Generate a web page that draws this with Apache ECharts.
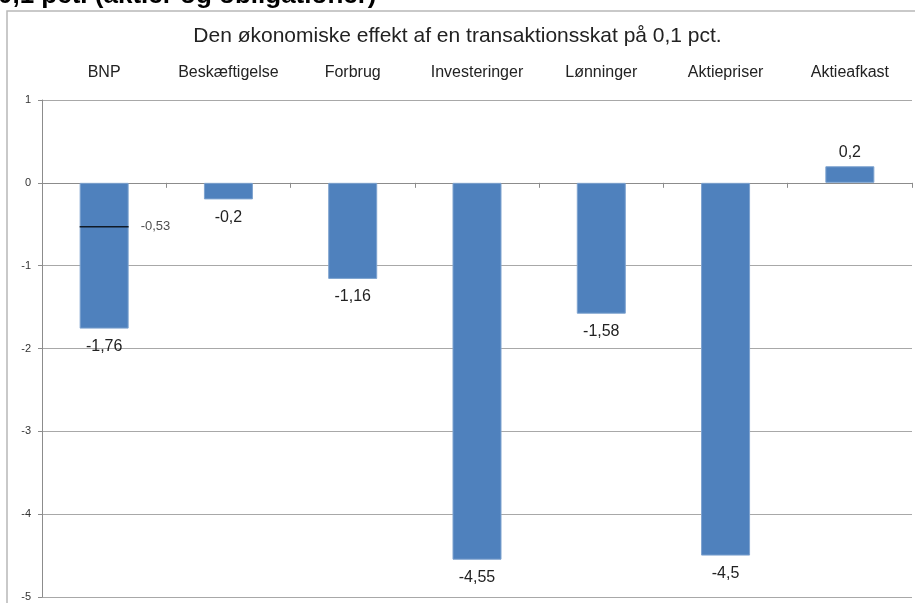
<!DOCTYPE html>
<html><head><meta charset="utf-8">
<script src="https://cdn.jsdelivr.net/npm/echarts@6/dist/echarts.min.js"></script>
<style>html,body{margin:0;padding:0;background:#fff}#c{width:915px;height:603px}</style>
</head><body><div id="c"></div>
<script>
const categories = ['BNP','Beskæftigelse','Forbrug','Investeringer','Lønninger','Aktiepriser','Aktieafkast'];
const effectValues = [-1.76, -0.2, -1.16, -4.55, -1.58, -4.5, 0.2];
const markerValues = [-0.53, null, null, null, null, null, null];
const yTicks = {min: -5, max: 1, interval: 1};
const titleText = 'Den økonomiske effekt af en transaktionsskat på 0,1 pct.';
const topText = '0,1 pct. (aktier og obligationer)';

const fmt = v => String(v).replace('.', ',');
const FONT = '"Liberation Sans",Arial,sans-serif';

const chart = echarts.init(document.getElementById('c'), null, {renderer: 'canvas'});
chart.setOption({
  animation: false,
  backgroundColor: '#fff',
  textStyle: {fontFamily: FONT},
  graphic: [
    {type: 'rect', shape: {x: 7, y: 11, width: 920, height: 600}, style: {fill: 'none', stroke: '#b8b8b8', lineWidth: 1.5}, z: -1},
    {type: 'text', left: -2, top: -17, style: {text: topText, font: 'bold 26px "Liberation Sans", Arial, sans-serif', fill: '#000'}}
  ],
  title: {
    text: titleText, left: 'center', top: 21,
    textStyle: {fontFamily: FONT, fontSize: 21, fontWeight: 'normal', color: '#222'}
  },
  grid: {left: 42, right: 3, top: 100, bottom: 6},
  xAxis: [
    {type: 'category', data: categories, position: 'top',
     axisLine: {show: false, onZero: false}, axisTick: {show: false},
     axisLabel: {fontSize: 16, color: '#222', margin: 19, interval: 0, fontFamily: FONT}},
    {type: 'category', data: categories, position: 'bottom',
     axisLine: {show: true, onZero: true, lineStyle: {color: '#8c8c8c', width: 1}},
     axisTick: {show: true, length: 5, inside: false, lineStyle: {color: '#8c8c8c'}},
     axisLabel: {show: false}}
  ],
  yAxis: {
    type: 'value', min: yTicks.min, max: yTicks.max, interval: yTicks.interval,
    axisLine: {show: true, lineStyle: {color: '#8c8c8c'}},
    axisTick: {show: true, length: 4, lineStyle: {color: '#8c8c8c'}},
    axisLabel: {fontSize: 11, color: '#333', margin: 11, fontFamily: FONT},
    splitLine: {show: true, lineStyle: {color: '#a8a8a8', width: 1}}
  },
  series: [
    {type: 'bar', xAxisIndex: 0, barWidth: 49,
     itemStyle: {color: '#4F81BD', borderColor: '#7ea3cf', borderWidth: 1},
     data: effectValues.map(v => ({value: v, label: {position: v < 0 ? 'bottom' : 'top', distance: v < 0 ? 10 : 6}})),
     label: {show: true, fontSize: 16, color: '#222', fontFamily: FONT,
             formatter: p => fmt(p.value)}},
    {type: 'scatter', xAxisIndex: 0, symbol: 'rect', symbolSize: [49, 1.3],
     itemStyle: {color: '#000'}, z: 5,
     data: markerValues,
     label: {show: true, position: 'right', distance: 12, fontSize: 13, color: '#222', fontFamily: FONT,
             formatter: p => fmt(p.value)}}
  ]
});
</script></body></html>
